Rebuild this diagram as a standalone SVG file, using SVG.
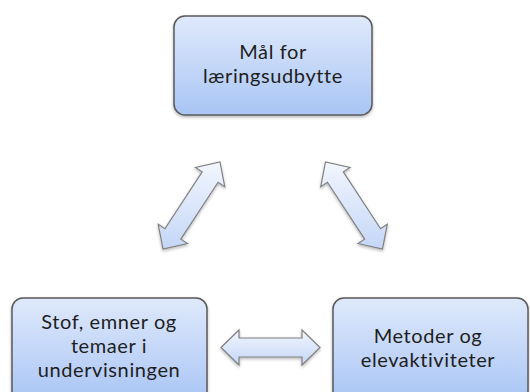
<svg xmlns="http://www.w3.org/2000/svg" width="530" height="392" viewBox="0 0 530 392">
<defs>
<linearGradient id="boxGrad" x1="0" y1="0" x2="0" y2="1">
<stop offset="0" stop-color="#dfe9fb"/>
<stop offset="1" stop-color="#a9c5f5"/>
</linearGradient>
<linearGradient id="arrowGrad" x1="0" y1="0" x2="0" y2="1">
<stop offset="0" stop-color="#f2f6fe"/>
<stop offset="1" stop-color="#c4d6f7"/>
</linearGradient>
<filter id="shadow" x="-10%" y="-10%" width="120%" height="130%">
<feDropShadow dx="0" dy="1.5" stdDeviation="1.5" flood-color="#000" flood-opacity="0.3"/>
</filter>
</defs>
<style>
.box{fill:url(#boxGrad);stroke:#5a5a5a;stroke-width:1.5;filter:url(#shadow)}
.arr{fill:url(#arrowGrad);stroke:#808080;stroke-width:1.2;stroke-linejoin:miter;filter:url(#shadow)}
.lbl{font-family:Lato,"Open Sans","Liberation Sans",sans-serif;font-size:20px;letter-spacing:0.6px;fill:#1e1e1e;text-anchor:middle}
</style>
<g id="node-maal">
<rect class="box" x="174" y="16" width="198" height="99" rx="11"/>
<text class="lbl" x="273" y="59">Mål for</text>
<text class="lbl" x="273" y="83">læringsudbytte</text>
</g>
<g id="node-stof">
<rect class="box" x="12" y="298" width="195" height="104" rx="11"/>
<text class="lbl" x="109" y="329">Stof, emner og</text>
<text class="lbl" x="109" y="353">temaer i</text>
<text class="lbl" x="109" y="377">undervisningen</text>
</g>
<g id="node-metoder">
<rect class="box" x="333" y="298" width="195" height="104" rx="11"/>
<text class="lbl" x="428" y="343">Metoder og</text>
<text class="lbl" x="428" y="367">elevaktiviteter</text>
</g>
<g id="connectors">
<polygon class="arr" points="220,162 224.77,186.65 218.08,182.27 180.82,239.15 187.51,243.53 163,249 158.23,224.35 164.92,228.73 202.18,171.85 195.49,167.47"/>
<polygon class="arr" points="325.5,162 320.73,186.65 327.42,182.27 364.68,239.15 357.99,243.53 382.5,249 387.27,224.35 380.58,228.73 343.32,171.85 350.01,167.47"/>
<polygon class="arr" points="221,347.5 239,330 239,338 302,338 302,330 320,347.5 302,365 302,357 239,357 239,365"/>
</g>
</svg>
